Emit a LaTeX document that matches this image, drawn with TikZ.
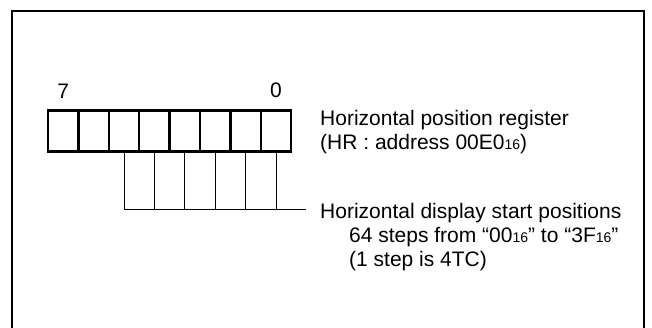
\documentclass[tikz,border=0pt]{standalone}
\usepackage{fontspec}
\setmainfont{Liberation Sans}
\usetikzlibrary{positioning}
\newcommand{\hx}{{\fontsize{14}{14}\selectfont 16}} % маленькое "16" (основание системы)
\tikzset{
  cell/.style = {draw, line width = 2.4pt, minimum width = 30.4pt, minimum height = 41pt, inner sep = 0pt},
  txt/.style = {inner sep = 0pt, font = \fontsize{21}{24}\selectfont},
  wire/.style = {line width = 0.8pt}
}
\begin{document}
\begin{tikzpicture}[x = 1pt, y = -1pt]
    \useasboundingbox (0,0) rectangle (652,327);
    % Рамка (снизу открыта)
    \draw [line width = 2.5pt] (12,340) -- (12,11) -- (644,11) -- (644,340);
    \def \w {30.4} % ширина одной ячейки
    \foreach \i in {0, ..., 7} { % биты 7..0 слева направо
        \node [cell] (c\i) at ({63.2 + \w*(7 - \i)}, 131) {};
    }
    \node [txt, above = 11pt of c7] (n7) {7};
    \node [txt, above = 11pt of c0] (n0) {0};
    % Линии от битов 5..0
    \foreach \i in {0, ..., 5} {
        \coordinate (t\i) at (c\i.south |- 0,209);
        \draw [wire] (c\i.south) -- (t\i);
    }
    \coordinate (tend) at (306,209);
    \draw [wire] (t5) -- (tend);
    % Подписи
    \node [txt, anchor = base west] (hr1) at (320,125) {Horizontal position register};
    \node [txt, anchor = base west] (hr2) at (320,149) {(HR : address 00E0\hx)};
    \node [txt, anchor = base west] (hs1) at (320,218) {Horizontal display start positions};
    \node [txt, anchor = base west] (hs2) at (349,242) {64 steps from “00\hx” to “3F\hx”};
    \node [txt, anchor = base west] (hs3) at (349,266) {(1 step is 4TC)};
\end{tikzpicture}
\end{document}
